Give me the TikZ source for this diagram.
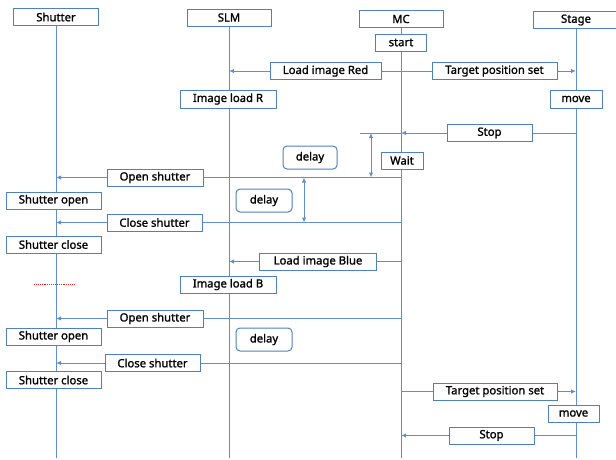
\documentclass[tikz,border=0pt]{standalone}
\usepackage{fontspec}
\setmainfont{Noto Sans}[FakeBold=1.3]
\usetikzlibrary{arrows.meta,backgrounds}
\definecolor{lineblue}{RGB}{96,142,206}
\definecolor{boxblue}{RGB}{79,129,189}
\definecolor{dotred}{RGB}{240,40,40}

\begin{document}
\begin{tikzpicture}[x=1pt,y=-1pt,
  box/.style={draw=boxblue,fill=white,line width=1pt,inner sep=0pt,minimum height=17pt,minimum width=#1,font=\fontsize{11.3}{12}\selectfont},
  delaybox/.style={box=#1,rounded corners=4pt,minimum height=23pt},
  life/.style={lineblue,line width=1pt},
  msg/.style={life,-{Latex[length=5pt,width=4.5pt]}},
  both/.style={life,{Latex[length=5pt,width=4.5pt]}-{Latex[length=5pt,width=4.5pt]}}]
\useasboundingbox (0,0) rectangle (616,459);
\node[box=85pt] (hShutter) at (56,17) {Shutter};
\node[box=84pt] (hSLM) at (229,17.5) {SLM};
\node[box=84pt] (hMC) at (401,19) {MC};
\node[box=85pt] (hStage) at (576,20) {Stage};
\node[box=51pt] (start) at (401,42.5) {start};
\node[box=111pt] (lRed) at (325.5,71) {Load image Red};
\node[box=125pt] (lTgtA) at (494.5,71) {Target position set};
\node[box=96pt,minimum height=18pt] (imgR) at (228,99) {Image load R};
\node[box=52pt,minimum height=18pt] (moveA) at (576,99) {move};
\node[box=85pt] (lStopA) at (489.5,133) {Stop};
\node[delaybox=54pt] (delayA) at (310,157.5) {delay};
\node[box=42pt] (wait) at (402,160.5) {Wait};
\node[box=96pt] (lOpenA) at (155,177.5) {Open shutter};
\node[box=95pt] (shOpenA) at (53.5,200.5) {Shutter open};
\node[delaybox=56pt] (delayB) at (264,200.5) {delay};
\node[box=95pt] (lCloseA) at (154.5,222.5) {Close shutter};
\node[box=95pt] (shCloseA) at (53.5,244.5) {Shutter close};
\node[box=117pt] (lBlue) at (318,261.5) {Load image Blue};
\node[box=96pt] (imgB) at (228,284.5) {Image load B};
\node[box=96pt] (lOpenB) at (155,318.5) {Open shutter};
\node[box=95pt] (shOpenB) at (53.5,336.5) {Shutter open};
\node[delaybox=56pt] (delayC) at (264,339.5) {delay};
\node[box=95pt] (lCloseB) at (152.5,363) {Close shutter};
\node[box=95pt] (shCloseB) at (53.5,380) {Shutter close};
\node[box=124pt] (lTgtB) at (495,391.5) {Target position set};
\node[box=51pt] (moveB) at (573.5,413.5) {move};
\node[box=85pt] (lStopB) at (491.5,435.5) {Stop};
\coordinate (bot) at (0,458);
\coordinate (stopEnd) at (360,0);
\coordinate (waitArr) at (371,0);
\coordinate (delayArr) at (304,0);
\coordinate (dotL) at (34,284);
\coordinate (dotR) at (75,284);
\begin{pgfonlayer}{background}
\draw[life] (hShutter) -- (hShutter |- bot);
\draw[life] (hSLM) -- (hSLM |- bot);
\draw[life] (hMC) -- (hMC |- bot);
\draw[life] (hStage) -- (hStage |- bot);
\draw[msg] (hMC |- lRed) -- (hSLM |- lRed);
\draw[msg] (hMC |- lTgtA) -- (hStage |- lTgtA);
\draw[msg] (hStage |- lStopA) -- (hMC |- lStopA);
\draw[life] (hMC |- lStopA) -- (stopEnd |- lStopA);
\draw[both] (waitArr |- lStopA) -- (waitArr |- lOpenA);
\draw[msg] (hMC |- lOpenA) -- (hShutter |- lOpenA);
\draw[both] (delayArr |- lOpenA) -- (delayArr |- lCloseA);
\draw[msg] (hMC |- lCloseA) -- (hShutter |- lCloseA);
\draw[msg] (hMC |- lBlue) -- (hSLM |- lBlue);
\draw[msg] (hMC |- lOpenB) -- (hShutter |- lOpenB);
\draw[msg] (hMC |- lCloseB) -- (hShutter |- lCloseB);
\draw[msg] (hMC |- lTgtB) -- (hStage |- lTgtB);
\draw[msg] (hStage |- lStopB) -- (hMC |- lStopB);
\end{pgfonlayer}
\draw[dotred,densely dotted,line width=0.9pt] (dotL) -- (dotR);
\end{tikzpicture}
\end{document}
